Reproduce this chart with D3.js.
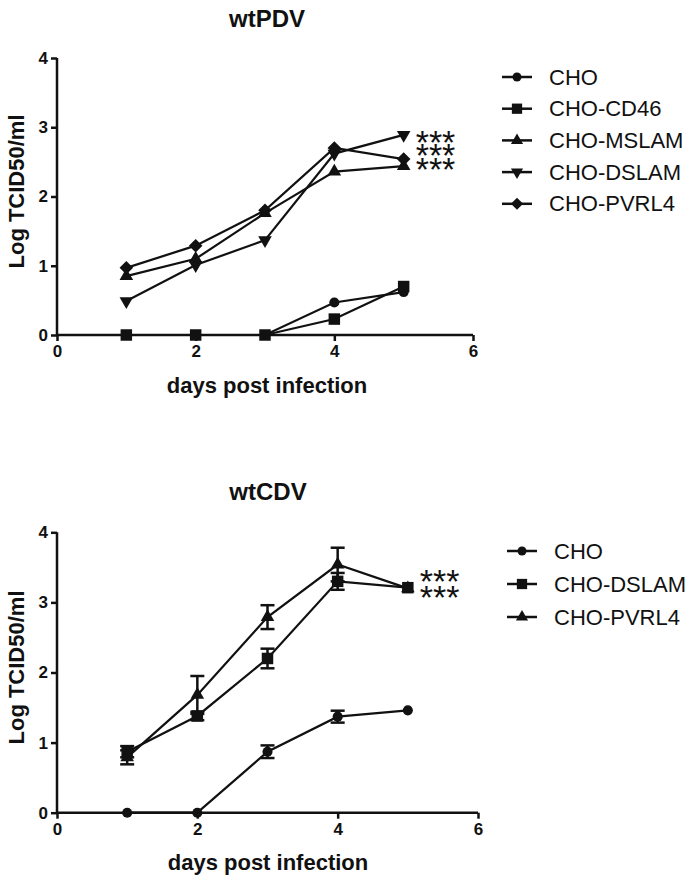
<!DOCTYPE html>
<html>
<head>
<meta charset="utf-8">
<script src="https://cdn.jsdelivr.net/npm/d3@7"></script>
<style>
  html, body { margin: 0; padding: 0; background: #fff; }
  svg { display: block; font-family: "Liberation Sans", Arial, sans-serif; }
</style>
</head>
<body>
<svg id="chart" width="695" height="884"></svg>
<script>
// ---------------- DATA ----------------
const days = [1, 2, 3, 4, 5];
const xTicks = [0, 2, 4, 6];
const yTicks = [0, 1, 2, 3, 4];

// wtPDV panel
const pdvNames = ["CHO", "CHO-CD46", "CHO-MSLAM", "CHO-DSLAM", "CHO-PVRL4"];
const pdvSymbols = ["circle", "square", "triangle", "triangleDown", "diamond"];
const pdvCHO    = [0, 0, 0, 0.47, 0.62];
const pdvCD46   = [0, 0, 0, 0.23, 0.70];
const pdvMSLAM  = [0.85, 1.10, 1.76, 2.36, 2.44];
const pdvDSLAM  = [0.49, 1.01, 1.37, 2.62, 2.89];
const pdvPVRL4  = [0.97, 1.29, 1.80, 2.70, 2.54];
const pdvStarLevels = [2.89, 2.70, 2.50];

// wtCDV panel
const cdvNames = ["CHO", "CHO-DSLAM", "CHO-PVRL4"];
const cdvSymbols = ["circle", "square", "triangle"];
const cdvCHO      = [0, 0, 0.87, 1.37, 1.46];
const cdvCHOErr   = [0, 0, 0.09, 0.085, 0];
const cdvDSLAM    = [0.87, 1.38, 2.20, 3.30, 3.21];
const cdvDSLAMErr = [0.08, 0.06, 0.14, 0.12, 0];
const cdvPVRL4    = [0.79, 1.68, 2.79, 3.54, 3.20];
const cdvPVRL4Err = [0.10, 0.27, 0.17, 0.24, 0];
const cdvStarLevels = [3.40, 3.18];

const titles = ["wtPDV", "wtCDV"];
const xLabel = "days post infection";
const yLabel = "Log TCID50/ml";
const stars = "***";

// ---------------- DRAW ----------------
const svg = d3.select("#chart");
const ink = "#111";

function symbolPath(kind, big) {
  const s = big ? 1 : 0.8;
  switch (kind) {
    case "circle": return d3.symbol(d3.symbolCircle, 80 * s)();
    case "square": return d3.symbol(d3.symbolSquare, 132 * s)();
    case "triangle": return d3.symbol(d3.symbolTriangle, 80 * s)();
    case "triangleDown": return d3.symbol(d3.symbolTriangle, 80 * s)();
    case "diamond": return d3.symbol(d3.symbolSquare, 92 * s)();
  }
}
function symbolRotate(kind) {
  return kind === "triangleDown" ? 180 : (kind === "diamond" ? 45 : 0);
}

function panel(cfg) {
  const x = d3.scaleLinear().domain([0, 6]).range([cfg.x0, cfg.x1]);
  const y = d3.scaleLinear().domain([0, 4]).range([cfg.y0, cfg.y1]);
  const g = svg.append("g");

  // title
  g.append("text").attr("x", cfg.cx).attr("y", cfg.titleY)
    .attr("text-anchor", "middle").attr("dominant-baseline", "central")
    .attr("font-size", 24).attr("font-weight", "bold").attr("fill", ink)
    .text(cfg.title);

  // axes
  const ax = g.append("g").attr("transform", `translate(0,${y(0)})`)
    .call(d3.axisBottom(x).tickValues(xTicks).tickFormat(d3.format("d"))
      .tickSize(6).tickSizeOuter(0).tickPadding(4));
  const ay = g.append("g").attr("transform", `translate(${x(0)},0)`)
    .call(d3.axisLeft(y).tickValues(yTicks).tickFormat(d3.format("d"))
      .tickSize(6).tickSizeOuter(0).tickPadding(3));
  [ax, ay].forEach(a => {
    a.selectAll("path,line").attr("stroke", ink).attr("stroke-width", 2.5);
    a.selectAll("text").attr("font-size", 17).attr("font-weight", "bold")
      .attr("fill", ink).attr("font-family", "Liberation Sans, Arial, sans-serif");
  });
  ax.select(".domain").attr("d", `M${x(0)},0H${x(6)}`);
  ay.select(".domain").attr("d", `M0,${y(0)}V${y(4)}`);

  // axis labels
  g.append("text").attr("x", cfg.cx).attr("y", y(0) + 50)
    .attr("text-anchor", "middle").attr("dominant-baseline", "central")
    .attr("font-size", 22).attr("font-weight", "bold").attr("fill", ink)
    .text(xLabel);
  g.append("text")
    .attr("transform", `translate(16,${(y(0) + y(4)) / 2 - 5}) rotate(-90)`)
    .attr("text-anchor", "middle").attr("dominant-baseline", "central")
    .attr("font-size", 22).attr("font-weight", "bold").attr("fill", ink)
    .text(yLabel);

  const line = d3.line().x((d, i) => x(days[i])).y(d => y(d));

  // lines
  cfg.series.forEach(s => {
    g.append("path").datum(s.values).attr("d", line)
      .attr("fill", "none").attr("stroke", ink).attr("stroke-width", 2.2);
  });
  // error bars
  cfg.series.forEach(s => {
    if (!s.err) return;
    s.values.forEach((v, i) => {
      const e = s.err[i];
      if (!e) return;
      const cxp = x(days[i]);
      g.append("line").attr("x1", cxp).attr("x2", cxp)
        .attr("y1", y(v - e)).attr("y2", y(v + e))
        .attr("stroke", ink).attr("stroke-width", 2.5);
      [v - e, v + e].forEach(c => {
        g.append("line").attr("x1", cxp - 7).attr("x2", cxp + 7)
          .attr("y1", y(c)).attr("y2", y(c))
          .attr("stroke", ink).attr("stroke-width", 2.5);
      });
    });
  });
  // markers
  cfg.series.forEach(s => {
    g.selectAll(null).data(s.values).enter().append("path")
      .attr("d", symbolPath(s.symbol, true))
      .attr("transform", (d, i) => `translate(${x(days[i])},${y(d)}) rotate(${symbolRotate(s.symbol)})`)
      .attr("fill", ink);
  });

  // significance stars (one text block, one row per significant series)
  const st = g.append("text").attr("font-size", 34).attr("fill", ink);
  cfg.starLevels.forEach(v => {
    st.append("tspan").attr("x", x(5) + 12).attr("y", y(v) + 19).text(stars);
  });

  // legend
  const lg = g.append("g");
  cfg.series.forEach((s, i) => {
    const ly = cfg.legY + i * cfg.legStep;
    lg.append("line").attr("x1", cfg.legX).attr("x2", cfg.legX + 30)
      .attr("y1", ly).attr("y2", ly).attr("stroke", ink).attr("stroke-width", 2.5);
    lg.append("path").attr("d", symbolPath(s.symbol, false))
      .attr("transform", `translate(${cfg.legX + 15},${ly}) rotate(${symbolRotate(s.symbol)})`)
      .attr("fill", ink);
    lg.append("text").attr("x", cfg.legX + 47).attr("y", ly)
      .attr("dominant-baseline", "central").attr("font-size", 22).attr("fill", ink)
      .text(s.name);
  });
}

panel({
  title: titles[0], cx: 267, titleY: 18,
  x0: 57, x1: 473, y0: 335, y1: 58,
  series: [pdvCHO, pdvCD46, pdvMSLAM, pdvDSLAM, pdvPVRL4].map((v, i) => ({
    name: pdvNames[i], symbol: pdvSymbols[i], values: v })),
  starLevels: pdvStarLevels,
  legX: 502, legY: 77, legStep: 31.7
});

panel({
  title: titles[1], cx: 268, titleY: 491,
  x0: 57, x1: 478, y0: 812.7, y1: 532.3,
  series: [[cdvCHO, cdvCHOErr], [cdvDSLAM, cdvDSLAMErr], [cdvPVRL4, cdvPVRL4Err]].map((p, i) => ({
    name: cdvNames[i], symbol: cdvSymbols[i], values: p[0], err: p[1] })),
  starLevels: cdvStarLevels,
  legX: 507, legY: 551, legStep: 33
});
</script>
</body>
</html>
